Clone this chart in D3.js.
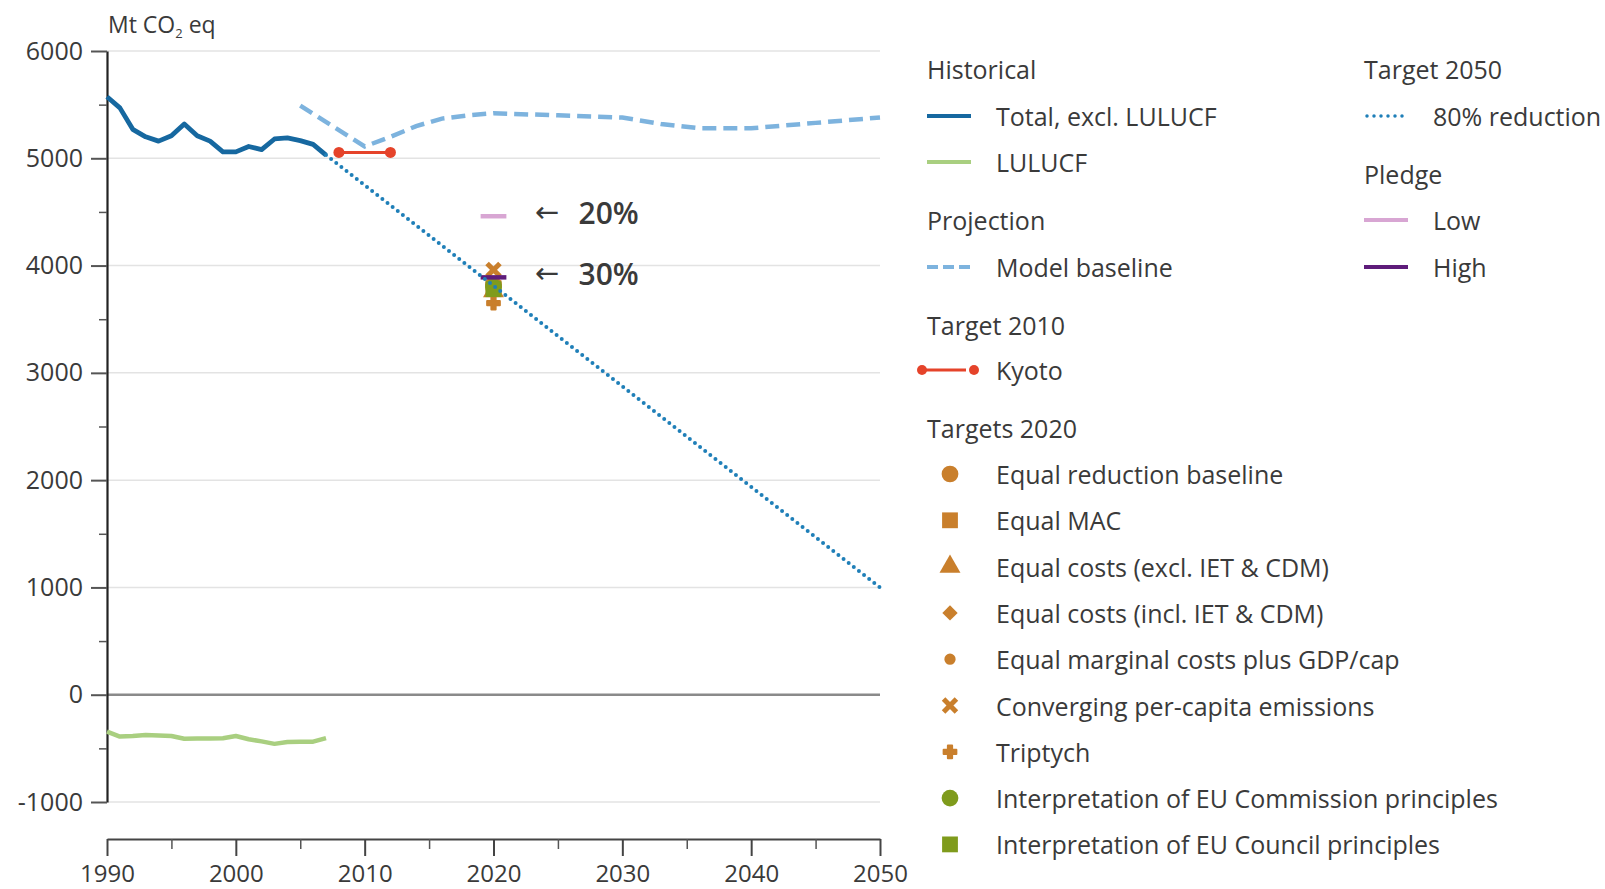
<!DOCTYPE html>
<html><head><meta charset="utf-8">
<script src="https://cdn.jsdelivr.net/npm/d3@7/dist/d3.min.js"></script>
<style>
body{margin:0;background:#fff;}
text{font-family:"Open Sans","DejaVu Sans",sans-serif;fill:#3a3a3a;}
</style></head><body>
<svg id="c" width="1605" height="889"></svg>
<script>
// ---------- DATA ----------
const histYears = [1990,1991,1992,1993,1994,1995,1996,1997,1998,1999,2000,2001,2002,2003,2004,2005,2006,2007];
const histTotal = [5574,5470,5270,5200,5160,5210,5320,5210,5160,5060,5060,5110,5080,5180,5190,5165,5130,5030];
const histLulucf = [-344,-390,-385,-375,-380,-385,-410,-408,-408,-405,-385,-415,-435,-458,-440,-438,-438,-405];
const baselineYears = [2005,2010,2012,2014,2016,2018,2020,2025,2030,2033,2036,2040,2045,2050];
const baselineValues = [5490,5110,5200,5300,5370,5400,5420,5400,5380,5320,5280,5280,5330,5380];
const kyotoYears = [2008,2012];
const kyotoValues = [5055,5055];
const target2050Years = [2007,2050];
const target2050Values = [5030,1000];
const pledgeYear = 2020;
const pledgeLow = 4460;
const pledgeHigh = 3890;
const targetNames = ["Equal reduction baseline","Equal MAC","Equal costs (excl. IET & CDM)","Equal costs (incl. IET & CDM)","Equal marginal costs plus GDP/cap","Converging per-capita emissions","Triptych","Interpretation of EU Commission principles","Interpretation of EU Council principles"];
const targetValues = [3820,3790,3760,3800,3780,3960,3650,3800,3780];
const targetShapes = ["circle","square","triangle","diamond","smallcircle","cross","star","circle","square"];
const targetColors = ["#c97f2c","#c97f2c","#c97f2c","#c97f2c","#c97f2c","#c97f2c","#c97f2c","#7f9b1c","#7f9b1c"];
const yTicks = [-1000,0,1000,2000,3000,4000,5000,6000];
const yMinorTicks = [-500,500,1500,2500,3500,4500,5500];
const xTicks = [1990,2000,2010,2020,2030,2040,2050];
const xMinorTicks = [1995,2005,2015,2025,2035,2045];

// ---------- COLOURS ----------
const cTotal = "#1668a0", cLulucf = "#a9cf80", cBase = "#7db3de", cDot = "#1f7fb8",
      cKyoto = "#e5432a", cLow = "#d8a6d3", cHigh = "#5e1c7a";

const svg = d3.select("#c");
const x = d3.scaleLinear().domain([1990,2050]).range([107,880]);
const y = d3.scaleLinear().domain([-1000,6000]).range([802,51]);

// grid
svg.append("g").selectAll("line").data(yTicks.filter(d=>d!==0)).join("line")
  .attr("x1",x(1990)).attr("x2",x(2050)).attr("y1",d=>y(d)).attr("y2",d=>y(d))
  .attr("stroke","#e3e3e3").attr("stroke-width",1.5);
svg.append("line").attr("x1",x(1990)).attr("x2",x(2050)).attr("y1",y(0)).attr("y2",y(0))
  .attr("stroke","#8a8a8a").attr("stroke-width",2.5);

// y axis
const yAxis = svg.append("g").attr("transform",`translate(${x(1990)},0)`)
  .call(d3.axisLeft(y).tickValues(yTicks).tickFormat(d=>d<0?"-"+Math.abs(d):String(d)).tickSize(16).tickSizeOuter(0).tickPadding(8));
yAxis.select(".domain").attr("stroke","#222").attr("stroke-width",2.2);
yAxis.selectAll(".tick line").attr("stroke","#555").attr("stroke-width",2);
yAxis.selectAll(".tick text").style("font-size","25px").style("font-family","'Open Sans',sans-serif").attr("fill","#3a3a3a");
svg.append("g").attr("transform",`translate(${x(1990)},0)`)
  .call(d3.axisLeft(y).tickValues(yMinorTicks).tickSize(8).tickFormat(""))
  .call(g=>g.select(".domain").remove())
  .selectAll(".tick line").attr("stroke","#555").attr("stroke-width",1.5);

// x axis
const xAxisY = 839;
const xAxis = svg.append("g").attr("transform",`translate(0,${xAxisY})`)
  .call(d3.axisBottom(x).tickValues(xTicks).tickFormat(d3.format("d")).tickSize(17).tickSizeOuter(0).tickPadding(9));
xAxis.select(".domain").attr("stroke","#444").attr("stroke-width",2.2);
xAxis.selectAll(".tick line").attr("stroke","#444").attr("stroke-width",2);
xAxis.selectAll(".tick text").style("font-size","24px").style("font-family","'Open Sans',sans-serif").attr("fill","#3a3a3a");
svg.append("g").attr("transform",`translate(0,${xAxisY})`)
  .call(d3.axisBottom(x).tickValues(xMinorTicks).tickSize(10).tickFormat(""))
  .call(g=>g.select(".domain").remove())
  .selectAll(".tick line").attr("stroke","#555").attr("stroke-width",1.5);

// unit label
const ut = svg.append("text").attr("x",108).attr("y",33).style("font-size","23px");
ut.append("tspan").text("Mt CO");
ut.append("tspan").text("2").style("font-size","13px").attr("dy",5);
ut.append("tspan").text(" eq").attr("dy",-5);

const line = d3.line().x(d=>x(d[0])).y(d=>y(d[1]));

// LULUCF
svg.append("path").datum(histYears.map((d,i)=>[d,histLulucf[i]]))
  .attr("d",line).attr("fill","none").attr("stroke",cLulucf).attr("stroke-width",4.5).attr("stroke-linejoin","round");
// baseline
svg.append("path").datum(baselineYears.map((d,i)=>[d,baselineValues[i]]))
  .attr("d",line).attr("fill","none").attr("stroke",cBase).attr("stroke-width",4.5)
  .attr("stroke-dasharray","14,7");
// total
svg.append("path").datum(histYears.map((d,i)=>[d,histTotal[i]]))
  .attr("d",line).attr("fill","none").attr("stroke",cTotal).attr("stroke-width",4.8).attr("stroke-linejoin","round");
// Kyoto
svg.append("path").datum(kyotoYears.map((d,i)=>[d,kyotoValues[i]]))
  .attr("d",line).attr("stroke",cKyoto).attr("stroke-width",3);
svg.append("g").selectAll("circle").data(kyotoYears.map((d,i)=>[d,kyotoValues[i]])).join("circle")
  .attr("cx",d=>x(d[0])).attr("cy",d=>y(d[1])).attr("r",5.5).attr("fill",cKyoto);

// symbols
function sym(g, shape, color){
  const s = {circle:[d3.symbolCircle,220],square:[d3.symbolSquare,250],triangle:[d3.symbolTriangle,190],
    diamond:[d3.symbolDiamond2,150],smallcircle:[d3.symbolCircle,100],cross:[d3.symbolX,110],star:[d3.symbolCross,90]}[shape];
  const p = g.append("path").attr("d",d3.symbol(s[0],s[1])()).attr("fill",color);
  if(shape==="cross") p.attr("stroke",color).attr("stroke-width",5).attr("stroke-linejoin","round");
  if(shape==="star") p.attr("stroke",color).attr("stroke-width",2).attr("stroke-linejoin","round");
  return p;
}
// 2020 markers (orange first, green on top)
targetNames.forEach((n,i)=>{
  const g = svg.append("g").attr("transform",`translate(${x(2020)},${y(targetValues[i])})`);
  sym(g,targetShapes[i],targetColors[i]);
});
// pledges
[[pledgeLow,cLow],[pledgeHigh,cHigh]].forEach(([v,c])=>{
  svg.append("line").attr("x1",x(pledgeYear-1)).attr("x2",x(pledgeYear+1)).attr("y1",y(v)).attr("y2",y(v))
    .attr("stroke",c).attr("stroke-width",4.5);
});
// 80% reduction dotted
svg.append("path").datum(target2050Years.map((d,i)=>[d,target2050Values[i]]))
  .attr("d",line).attr("fill","none").attr("stroke",cDot).attr("stroke-width",4)
  .attr("stroke-linecap","round").attr("stroke-dasharray","0,6.5");

// annotations
[[pledgeLow,"20%"],[pledgeHigh,"30%"]].forEach(([v,t],i)=>{
  svg.append("text").attr("x",x(2023.2)).attr("y",y(v)-4).attr("dominant-baseline","central")
    .style("font-size","29px").style("font-family","'DejaVu Sans',sans-serif").text("←").attr("fill","#333");
  svg.append("text").attr("x",x(2026.6)).attr("y",y(v)-4).attr("dominant-baseline","central")
    .style("font-size","30px").style("font-weight","600").text(t).attr("fill","#333");
});

// ---------- LEGEND ----------
const fs = "25px";
function label(xp, yp, t){ svg.append("text").attr("x",xp).attr("y",yp).attr("dominant-baseline","central").style("font-size",fs).text(t); }
const heading = label;
function lineSw(xp, yp, color, dash, w){
  const l = svg.append("line").attr("x1",xp).attr("x2",xp+44).attr("y1",yp).attr("y2",yp).attr("stroke",color).attr("stroke-width",w||4);
  if(dash==="dash") l.attr("stroke-dasharray","11,5");
  if(dash==="dot") l.attr("stroke-dasharray","0,7").attr("stroke-linecap","round").attr("x1",xp+3).attr("x2",xp+42);
  return l;
}
const L1 = 927, L1t = 996, L2 = 1364, L2t = 1433;
heading(L1,69,"Historical");
lineSw(L1,116,cTotal); label(L1t,116,"Total, excl. LULUCF");
lineSw(L1,162,cLulucf); label(L1t,162,"LULUCF");
heading(L1,220,"Projection");
lineSw(L1,267,cBase,"dash"); label(L1t,267,"Model baseline");
heading(L1,325,"Target 2010");
lineSw(L1-5,370,cKyoto,null,3);
svg.append("circle").attr("cx",L1-5).attr("cy",370).attr("r",5).attr("fill",cKyoto);
svg.append("circle").attr("cx",L1+47).attr("cy",370).attr("r",5).attr("fill",cKyoto);
label(L1t,370,"Kyoto");
heading(L1,428,"Targets 2020");
targetNames.forEach((n,i)=>{
  const yy = 474 + i*46.3;
  const g = svg.append("g").attr("transform",`translate(${L1+23},${yy})`);
  sym(g,targetShapes[i],targetColors[i]);
  label(L1t,yy,n);
});
heading(L2,69,"Target 2050");
lineSw(L2,116,cDot,"dot",3.5); label(L2t,116,"80% reduction");
heading(L2,174,"Pledge");
lineSw(L2,220,cLow); label(L2t,220,"Low");
lineSw(L2,267,cHigh); label(L2t,267,"High");
</script></body></html>
